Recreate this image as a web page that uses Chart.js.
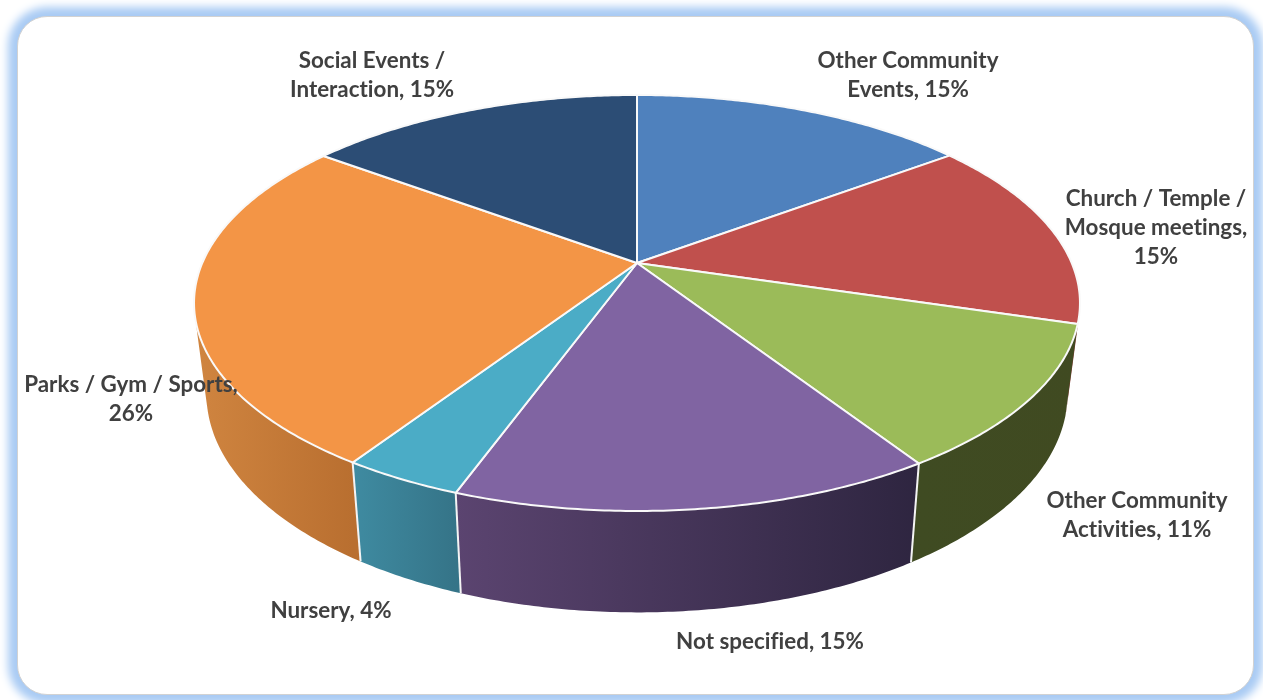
<!doctype html>
<html lang="en">
  <head>
    <meta charset="UTF-8" />
    <title>Community Activities</title>
    <script src="https://cdn.jsdelivr.net/npm/chart.js"></script>
    <style>
      body {
        margin: 0;
        background-color: #fff;
        overflow: hidden;
      }

      .frame {
        position: absolute;
        left: 17px;
        top: 16px;
        width: 1235px;
        height: 677px;
        background: #fff;
        border: 1.5px solid #d2d2d2;
        border-radius: 30px;
        box-shadow: 0 0 8px 9px #a9cbf4;
      }

      .chart-container {
        position: absolute;
        left: 0;
        top: 0;
        width: 1263px;
        height: 700px;
      }
    </style>
  </head>
  <body>
    <div class="frame"></div>
    <div class="chart-container">
      <canvas id="pieChart"></canvas>
    </div>

    <script>
      const categories = [
        'Other Community\nEvents',
        'Church / Temple /\nMosque meetings',
        'Other Community\nActivities',
        'Not specified',
        'Nursery',
        'Parks / Gym / Sports',
        'Social Events /\nInteraction',
      ];
      // The labels show them rounded
      const values = [14.8, 14.85, 11.2, 14.7, 3.7, 25.9, 14.85];
      const separators = [', ', ',\n', ', ', ', ', ', ', ',\n', ', '];
      const topColors = ['#4f81bd', '#c0504d', '#9bbb59', '#8064a2', '#4bacc6', '#f39546', '#2c4d75'];
      const wallColors = [
        ['#3a5f8c', '#3a5f8c'],
        ['#8e3b39', '#8e3b39'],
        ['#3f4b22', '#404a21'],
        ['#5b4470', '#2e2540'],
        ['#3f8ba1', '#357488'],
        ['#d08540', '#b96f30'],
        ['#213a58', '#213a58'],
      ];

      // Where each label block is centred (first line)
      const labelPlaces = [
        [908, 61],
        [1156, 199],
        [1137, 501],
        [770, 642],
        [331, 611],
        [131, 385],
        [372, 61],
      ];

      // Perspective of the tilted disc, fitted to the picture
      const view = { cx: 637, cy: 263, a: 434.7, b: 200.3, k: 0.1923 };

      function projectTop(angle, r) {
        const u = r * Math.cos(angle);
        const v = r * Math.sin(angle);
        const w = 1 - view.k * v;
        return [view.cx + (view.a * u) / w, view.cy + (view.b * v) / w];
      }

      function projectBottom(angle) {
        const [x, y] = projectTop(angle, 1);
        return [view.cx + (x - view.cx) * 0.972, y + 99 + (y - 463) * 0.05];
      }

      function arcSteps(start, end) {
        const steps = [];
        const n = Math.max(4, Math.ceil((end - start) / 0.01));
        for (let i = 0; i <= n; i++) {
          steps.push(start + ((end - start) * i) / n);
        }
        return steps;
      }

      function signedArea(pts) {
        let sum = 0;
        pts.forEach((p, i) => {
          const q = pts[(i + 1) % pts.length];
          sum += p[0] * q[1] - q[0] * p[1];
        });
        return sum;
      }

      const pie3d = {
        id: 'pie3d',
        beforeDatasetsDraw(chart) {
          const ctx = chart.ctx;
          const arcs = chart.getDatasetMeta(0).data;

          // Side walls first, the top face covers what is behind it.
          // All quads turned the same way in one path, otherwise the fold at the sides cancels out
          arcs.forEach((arc, i) => {
            const { startAngle, endAngle } = arc.getProps(['startAngle', 'endAngle'], true);
            const steps = arcSteps(startAngle, endAngle);
            const upper = steps.map(t => projectTop(t, 1));
            const lower = steps.map(t => projectBottom(t));
            const xs = upper.map(p => p[0]);
            const grad = ctx.createLinearGradient(Math.min(...xs), 0, Math.max(...xs), 0);
            grad.addColorStop(0, wallColors[i][0]);
            grad.addColorStop(1, wallColors[i][1]);
            ctx.beginPath();
            for (let j = 0; j < steps.length - 1; j++) {
              const quad = [upper[j], upper[j + 1], lower[j + 1], lower[j]];
              if (signedArea(quad) < 0) {
                quad.reverse();
              }
              ctx.moveTo(quad[0][0], quad[0][1]);
              ctx.lineTo(quad[1][0], quad[1][1]);
              ctx.lineTo(quad[2][0], quad[2][1]);
              ctx.lineTo(quad[3][0], quad[3][1]);
              ctx.closePath();
            }
            ctx.fillStyle = grad;
            ctx.fill();
          });

          // White seams between the front walls
          ctx.strokeStyle = '#f4f4f4';
          ctx.lineWidth = 2;
          arcs.forEach(arc => {
            const { endAngle } = arc.getProps(['endAngle'], true);
            if (Math.sin(endAngle) > 0.5) {
              const p = projectTop(endAngle, 1);
              const q = projectBottom(endAngle);
              ctx.beginPath();
              ctx.moveTo(p[0], p[1]);
              ctx.lineTo(q[0], q[1]);
              ctx.stroke();
            }
          });

          // Top faces
          arcs.forEach((arc, i) => {
            const { startAngle, endAngle } = arc.getProps(['startAngle', 'endAngle'], true);
            ctx.beginPath();
            ctx.moveTo(view.cx, view.cy);
            arcSteps(startAngle, endAngle).forEach(t => {
              const p = projectTop(t, 1);
              ctx.lineTo(p[0], p[1]);
            });
            ctx.closePath();
            ctx.fillStyle = topColors[i];
            ctx.fill();
            ctx.strokeStyle = '#f9f9f9';
            ctx.lineWidth = 2;
            ctx.lineJoin = 'round';
            ctx.stroke();
          });

          // Labels
          ctx.font = 'bold 22.4px Lato';
          ctx.letterSpacing = '0.01px'; // stops the "ti" ligature
          ctx.fillStyle = '#404040';
          ctx.textAlign = 'center';
          ctx.textBaseline = 'middle';
          categories.forEach((cat, i) => {
            const lines = `${cat}${separators[i]}${Math.round(values[i])}%`.split('\n');
            lines.forEach((line, j) => {
              ctx.fillText(line, labelPlaces[i][0], labelPlaces[i][1] + j * 29);
            });
          });

          return false; // the default flat arcs are not drawn
        },
      };

      new Chart(document.getElementById('pieChart').getContext('2d'), {
        type: 'pie',
        data: {
          labels: categories,
          datasets: [{ data: values, backgroundColor: topColors }],
        },
        options: {
          responsive: true,
          maintainAspectRatio: false,
          animation: false,
          plugins: {
            legend: { display: false },
            tooltip: { enabled: false },
          },
        },
        plugins: [pie3d],
      });
    </script>
  </body>
</html>
